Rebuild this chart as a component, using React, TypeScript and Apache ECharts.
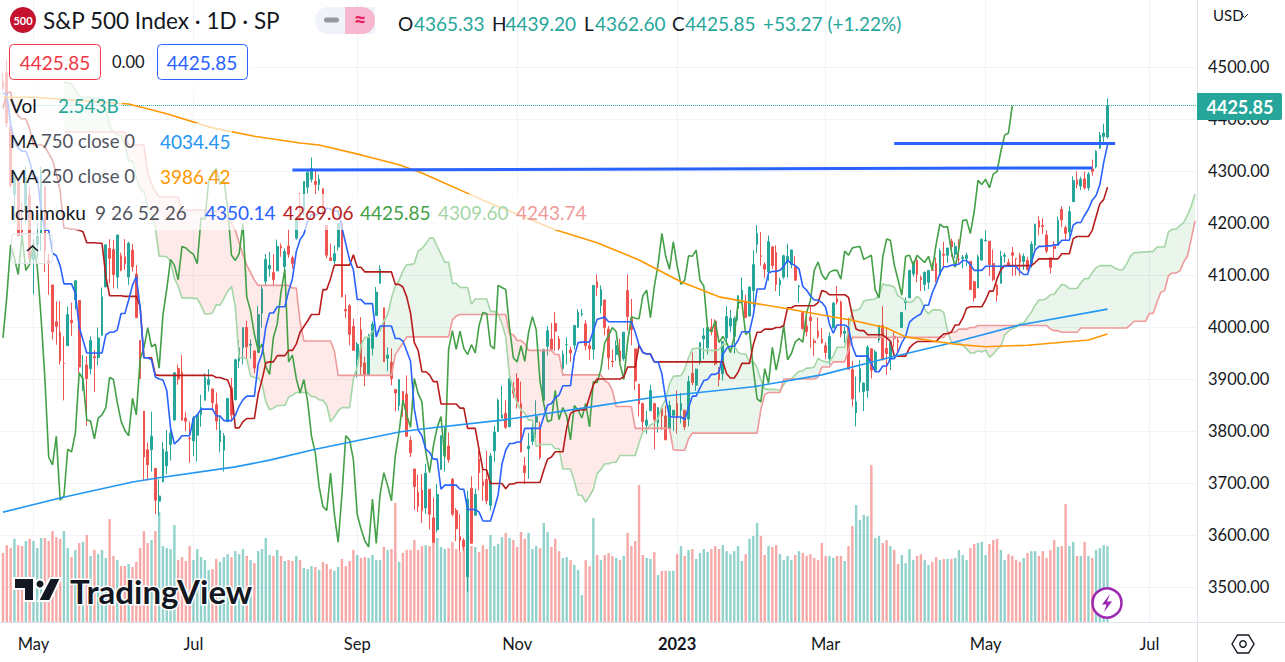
import React, { useEffect, useRef } from "react";
import * as echarts from "echarts";

// ---- daily bars, 20 Apr 2022 .. 15 Jun 2023 ----
const opens = [
  4472,4489,4385,4255,4279,4187,4223,4253,
  4130,4159,4181,4270,4128,4081,4010,3990,3930,3964,4013,4052,4051,3900,3927,3920,3943,3941,3984,4077,4151,
  4149,4096,4137,4135,4096,4148,4102,3974,3838,3764,3764,3728,3665,3702,3733,3774,3821,3920,3913,3825,3786,
  3781,3792,3831,3859,3889,3881,3851,3779,3763,3818,3883,3860,3935,3960,3999,3965,3954,3951,4027,4088,
  4112,4105,4108,4155,4116,4156,4133,4171,4227,4225,4269,4284,4280,4274,4266,4195,4133,4127,4154,4199,4034,4041,4001,
  3937,3995,3931,3909,3959,4022,4084,4037,3940,3932,3880,3849,3876,3871,3782,3727,3682,3686,3652,3688,3633,
  3610,3726,3753,3771,3707,3647,3597,3590,3520,3690,3638,3746,3703,3707,3657,3762,3799,3825,3834,3808,3882,
  3901,3853,3733,3766,3780,3817,3810,3859,3963,3977,4007,3977,3920,3966,3956,3965,4000,4024,4006,3964,3957,
  4087,4041,4052,3996,3934,3947,3954,3939,4070,4016,3958,3890,3853,3811,3839,3853,3816,3843,3829,3805,3830,
  3853,3840,3840,3823,3911,3888,3932,3977,3960,3999,4011,3911,3910,3979,4002,3982,4036,4053,4050,4021,
  4070,4159,4137,4120,4106,4154,4143,4081,4096,4126,4120,4115,4078,4028,4002,4019,3973,3992,3977,
  3964,3939,3998,4055,4048,3988,3998,3918,3835,3894,3876,3878,3958,3917,3975,4003,3959,3939,3982,3974,3999,4047,4056,
  4102,4128,4095,4082,4086,4110,4122,4100,4140,4138,4165,4140,4130,4132,4132,4126,4087,4075,4129,
  4166,4165,4122,4081,4084,4136,4124,4143,4132,4138,4126,4128,4122,4157,4204,4195,4177,4133,4155,4157,4226,4191,
  4183,4241,4283,4271,4285,4268,4304,4308,4344,4366,4365.33,
];
const highs = [
  4489,4513,4386,4299,4279,4240,4309,4270,
  4169,4201,4308,4270,4141,4081,4049,4050,3982,4039,4047,4090,4051,3946,3944,3982,3956,3999,4076,4159,4169,
  4167,4177,4143,4169,4164,4160,4119,3975,3838,3778,3837,3728,3707,3779,3802,3808,3913,3928,3946,3837,3818,
  3829,3832,3870,3911,3919,3881,3874,3829,3796,3863,3902,3939,3975,3999,4012,3976,3954,4040,4079,4140,
  4144,4140,4168,4161,4151,4187,4137,4211,4258,4280,4301,4326,4303,4293,4266,4195,4160,4157,4200,4204,4062,4044,4016,
  3971,4019,3943,3987,4011,4077,4119,4037,3961,3959,3880,3900,3876,3907,3790,3727,3716,3717,3737,3688,3672,
  3698,3791,3807,3797,3710,3652,3640,3594,3685,3713,3689,3762,3728,3762,3758,3810,3862,3887,3859,3905,3894,
  3911,3895,3750,3796,3813,3859,3818,3958,4002,4008,4029,3983,3955,3980,3962,4003,4034,4035,4013,3976,4080,
  4101,4080,4052,4002,3957,3974,3977,3990,4101,4054,3958,3890,3854,3839,3889,3853,3846,3846,3849,3858,3840,
  3878,3873,3840,3906,3951,3920,3970,3998,4003,4016,4015,3923,3972,4040,4033,4020,4061,4095,4062,4077,
  4148,4196,4183,4125,4176,4156,4157,4095,4139,4160,4149,4136,4081,4028,4017,4040,3978,4018,3998,
  3971,3990,4048,4079,4051,4001,4018,3935,3905,3937,3894,3965,3959,3956,4003,4040,4000,3972,3990,3979,4006,4057,4110,
  4125,4134,4099,4107,4109,4124,4134,4151,4164,4152,4170,4163,4169,4138,4143,4126,4089,4139,4170,
  4186,4165,4149,4083,4147,4143,4131,4154,4132,4143,4141,4135,4165,4198,4213,4209,4186,4133,4165,4212,4232,4195,
  4232,4290,4299,4289,4299,4298,4322,4340,4375,4391,4439.2,
];
const lows = [
  4455,4385,4268,4201,4175,4163,4200,4125,
  4063,4132,4147,4106,4062,3976,3966,3928,3859,3964,3983,4034,3911,3877,3810,3909,3875,3926,3984,4077,4084,
  4074,4074,4107,4110,4081,4107,4017,3900,3706,3705,3722,3640,3637,3702,3717,3743,3821,3889,3820,3800,3739,
  3752,3742,3808,3859,3876,3839,3802,3759,3722,3818,3818,3860,3921,3928,3938,3939,3911,3951,3999,4079,
  4097,4079,4108,4135,4107,4133,4112,4168,4201,4215,4257,4278,4255,4262,4218,4132,4128,4121,4147,4057,4017,3965,3954,
  3903,3907,3886,3906,3945,4022,4084,3933,3915,3888,3838,3839,3827,3789,3750,3648,3644,3623,3641,3611,3585,
  3605,3726,3722,3739,3636,3588,3568,3570,3491,3584,3638,3686,3666,3659,3647,3741,3799,3824,3804,3808,3863,
  3843,3759,3698,3708,3773,3786,3745,3859,3945,3957,3954,3955,3906,3928,3933,3957,3998,4020,3955,3937,3938,
  4060,4026,3984,3918,3923,3935,3933,3935,3994,3965,3879,3828,3800,3795,3839,3765,3797,3802,3783,3805,3800,
  3795,3815,3802,3809,3888,3877,3928,3938,3947,3984,3926,3886,3897,3972,3990,3949,4012,4048,4017,4021,
  4038,4142,4118,4094,4089,4112,4069,4060,4092,4095,4113,4090,4047,3995,3982,3960,3944,3977,3968,
  3939,3928,3998,4043,3980,3970,3918,3847,3809,3874,3838,3864,3901,3917,3970,3936,3908,3917,3961,3951,3999,4033,4056,
  4097,4086,4069,4069,4073,4108,4086,4100,4113,4124,4135,4132,4123,4113,4117,4071,4049,4075,4127,
  4164,4098,4088,4049,4084,4124,4116,4098,4099,4099,4110,4109,4114,4150,4176,4179,4142,4103,4131,4156,4192,4166,
  4174,4241,4267,4263,4264,4262,4291,4305,4342,4351,4362.6,
];
const closes = [
  4459,4393,4272,4296,4175,4183,4288,4132,
  4155,4175,4301,4147,4123,3991,4001,3935,3930,4024,4008,4089,3923,3901,3901,3974,3941,3979,4058,4158,4132,
  4101,4177,4109,4121,4161,4116,4018,3901,3750,3735,3790,3667,3675,3765,3760,3796,3912,3900,3821,3819,3785,
  3825,3831,3845,3903,3899,3855,3819,3801,3791,3863,3831,3937,3960,3999,3962,3967,3921,4024,4073,4130,
  4119,4091,4155,4152,4145,4140,4122,4210,4207,4280,4297,4305,4274,4284,4228,4138,4128,4141,4199,4058,4031,3986,3955,
  3967,3924,3909,3980,4006,4067,4111,3933,3946,3901,3873,3899,3856,3790,3758,3693,3655,3647,3719,3640,3586,
  3678,3791,3783,3745,3640,3612,3589,3577,3669,3584,3678,3720,3695,3666,3752,3798,3859,3831,3807,3901,3872,
  3856,3760,3720,3771,3807,3828,3749,3957,3993,3957,3992,3959,3947,3966,3950,4003,4028,4026,3964,3958,4080,
  4076,4072,3999,3941,3933,3964,3934,3990,4020,3995,3896,3852,3818,3821,3878,3822,3845,3829,3783,3849,3840,
  3825,3853,3808,3895,3893,3919,3970,3983,3999,3991,3929,3899,3972,4020,4017,4016,4060,4071,4018,4077,
  4120,4180,4136,4111,4164,4118,4082,4090,4137,4136,4148,4090,4079,3997,3991,4012,3970,3982,3970,
  3951,3982,4046,4048,3986,3992,3919,3862,3856,3920,3892,3961,3917,3952,4003,3937,3949,3971,3978,3971,4028,4051,4109,
  4125,4101,4091,4105,4109,4109,4092,4146,4138,4152,4154,4155,4130,4134,4138,4072,4056,4135,4169,
  4167,4120,4091,4061,4136,4138,4119,4138,4131,4124,4136,4110,4159,4198,4192,4193,4146,4115,4151,4205,4206,4180,
  4222,4282,4274,4284,4268,4294,4299,4338,4369,4373,4425.85,
];
// volume, billions
const volumes = [
  2.31,2.57,2.47,2.78,2.57,2.54,2.71,2.78,2.71,2.47,
  2.81,2.81,2.71,3.04,2.84,2.78,3.04,2.47,2.17,2.41,
  2.64,2.68,2.91,2.21,2.41,2.27,2.41,2.14,3.44,2.21,
  2.07,1.87,1.87,1.94,1.84,2.01,2.47,3.04,2.64,2.74,
  3.04,3.68,2.54,2.47,2.44,3.24,2.07,2.17,2.04,2.54,
  2.07,2.44,2.17,2.07,1.74,1.77,2.11,2.01,2.17,2.27,
  2.17,2.37,2.27,2.44,2.21,2.07,1.97,2.37,2.44,2.81,
  2.24,2.21,2.41,2.21,2.04,2.07,2.04,2.21,2.07,1.81,
  1.77,1.87,1.84,1.74,2.01,1.94,1.77,1.71,1.84,2.11,
  1.87,2.04,2.41,2.24,2.14,2.17,2.14,2.24,2.07,2.07,
  2.51,2.41,2.44,3.98,2.01,2.31,2.41,2.41,2.74,2.41,
  2.54,2.57,2.54,2.74,2.81,2.51,2.44,2.47,2.68,2.44,
  2.34,2.47,2.21,2.54,2.51,2.34,2.57,2.44,2.91,2.54,
  2.61,2.84,2.98,2.81,2.74,2.51,3.01,2.78,2.98,2.44,
  2.54,2.47,3.31,3.01,2.51,2.78,2.37,2.14,2.17,2.07,
  1.91,1.74,0.90,2.07,1.87,3.48,2.24,2.07,2.24,2.31,
  2.21,2.14,2.07,2.21,2.98,2.54,2.71,4.58,2.24,2.14,
  2.11,2.34,1.57,1.71,1.71,1.71,1.71,2.27,2.54,2.21,
  2.41,2.44,2.11,2.31,2.44,2.34,2.44,2.54,2.44,2.57,
  2.37,2.27,2.37,2.54,2.04,2.27,2.78,2.88,3.31,2.88,
  2.24,2.54,2.51,2.57,2.27,2.07,2.21,2.07,2.24,2.37,
  2.31,2.21,2.27,2.14,2.07,2.64,2.21,2.21,2.14,2.21,
  2.21,2.04,2.54,3.21,3.91,3.41,3.58,3.54,5.25,2.81,
  2.88,2.64,2.74,2.54,2.41,1.94,2.24,1.97,2.44,2.07,
  2.21,2.27,2.07,1.91,2.01,2.17,2.07,2.11,2.11,2.11,
  2.14,2.41,2.24,2.07,2.47,2.61,2.64,2.68,2.24,2.61,
  2.74,2.78,2.41,2.07,2.27,2.21,2.07,2.01,2.14,2.31,
  2.37,2.37,2.21,2.37,2.14,2.41,2.74,2.51,2.54,3.95,
  2.54,2.68,2.21,2.21,2.68,2.21,2.14,2.41,2.47,2.57,
  2.54,
];
// Ichimoku conversion and base lines
const tenkan = [
  4450,4447,4390,4357,4344,4338,4338,4319,4288,4288,
  4225,4186,4186,4142,4137,4118,4083,4083,4083,4065,
  4000,3975,3950,3950,3950,3950,3950,3985,3990,3990,
  3994,4026,4026,4052,4080,4097,4038,3941,3941,3937,
  3904,3900,3898,3878,3806,3775,3782,3791,3791,3791,
  3824,3831,3842,3842,3842,3842,3829,3829,3820,3820,
  3820,3830,3848,3860,3867,3867,3867,3929,3948,4000,
  4027,4027,4039,4039,4039,4069,4093,4145,4168,4179,
  4204,4216,4216,4219,4219,4229,4227,4223,4223,4191,
  4160,4129,4110,4053,4053,4045,4045,4045,3981,4002,
  4002,4002,4002,3978,3978,3973,3954,3934,3842,3802,
  3791,3765,3759,3746,3746,3688,3696,3696,3696,3696,
  3688,3688,3649,3649,3649,3644,3627,3627,3627,3651,
  3677,3736,3763,3776,3776,3779,3779,3805,3805,3805,
  3805,3805,3828,3850,3853,3864,3869,3887,3887,3887,
  3944,3970,3971,3971,3971,3993,4015,4017,4019,4010,
  4010,4010,4010,4010,4010,4010,3990,3965,3951,3948,
  3948,3933,3933,3910,3862,3828,3827,3827,3827,3822,
  3845,3867,3867,3883,3897,3899,3909,3909,3913,3947,
  3959,3963,3963,3974,3991,3991,3991,4023,4073,4073,
  4073,4104,4107,4107,4109,4117,4128,4122,4118,4112,
  4078,4071,4060,4052,4052,4047,4038,4005,3988,4004,
  4004,4004,3999,3963,3944,3944,3944,3944,3930,3914,
  3914,3925,3925,3939,3939,3952,3970,3982,4009,4016,
  4021,4025,4042,4042,4066,4083,4103,4116,4116,4119,
  4119,4121,4128,4128,4120,4109,4109,4109,4117,4117,
  4117,4117,4117,4117,4117,4117,4117,4107,4101,4101,
  4124,4148,4155,4155,4156,4156,4158,4158,4167,4167,
  4167,4196,4201,4201,4215,4227,4244,4253,4274,4316,4350.14,
];
const kijun = [
  4420,4450,4452,4419,4406,4400,4400,4381,4350,4350,
  4350,4347,4334,4321,4295,4263,4190,4190,4188,4188,
  4186,4183,4162,4162,4162,4161,4161,4098,4060,4060,
  4060,4060,4059,4059,4059,4059,4040,3941,3941,3941,
  3908,3907,3907,3907,3907,3907,3907,3907,3907,3907,
  3907,3907,3907,3907,3907,3907,3903,3903,3900,3898,
  3878,3806,3806,3818,3824,3824,3824,3871,3898,3931,
  3933,3933,3945,3945,3945,3955,3955,3967,3990,4001,
  4012,4024,4024,4024,4072,4072,4093,4119,4119,4119,
  4119,4119,4139,4115,4115,4106,4106,4106,4106,4106,
  4106,4106,4106,4082,4082,4077,4058,4027,3970,3955,
  3914,3914,3908,3895,3895,3852,3852,3852,3852,3852,
  3844,3844,3805,3805,3805,3764,3726,3725,3699,3699,
  3699,3699,3689,3698,3698,3701,3701,3701,3701,3701,
  3701,3701,3725,3746,3750,3760,3760,3760,3806,3834,
  3838,3840,3841,3841,3866,3889,3900,3900,3900,3900,
  3900,3900,3900,3904,3923,3923,3923,3965,3951,3948,
  3948,3933,3933,3933,3933,3933,3933,3933,3933,3933,
  3933,3933,3933,3933,3933,3933,3933,3933,3933,3933,
  3910,3902,3902,3913,3930,3930,3930,3966,3990,3990,
  3996,3996,3996,3999,3999,4003,4037,4037,4041,4041,
  4041,4041,4041,4041,4047,4070,4068,4062,4062,4062,
  4062,4062,4057,4022,3996,3993,3993,3985,3985,3985,
  3985,3985,3979,3973,3945,3944,3944,3944,3960,3967,
  3972,3972,3972,3972,3972,3972,3980,3987,3987,3990,
  4004,4004,4017,4036,4039,4039,4039,4039,4052,4069,
  4069,4093,4110,4118,4118,4118,4118,4118,4118,4118,
  4118,4124,4131,4131,4131,4131,4131,4131,4141,4141,
  4141,4170,4174,4174,4174,4174,4186,4212,4237,4245,4269.06,
];
// Ichimoku leading spans, drawn from bar 16 to the right edge of the plot
const leadStart = 16;
const spanA = [
  4470,4470,4468,4455,4445,4442,4442,4442,4440,
  4440,4435,4421,4388,4375,
  4369,4369,4350,4319,4319,4287,4266,4260,4231,4216,
  4190,4136,4136,4135,4126,4093,4079,4056,4056,4056,
  4055,4055,4041,4025,4025,4027,4043,4042,4055,4069,
  4078,4039,3941,3941,3939,3906,3903,3902,3892,3856,
  3841,3844,3849,3849,3849,3865,3869,3874,3874,3874,
  3874,3866,3866,3860,3859,3849,3818,3827,3839,3845,
  3845,3845,3900,3923,3965,3980,3980,3992,3992,3992,
  4012,4024,4056,4079,4090,4108,4120,4120,4122,4146,
  4151,4160,4171,4171,4155,4140,4124,4125,4084,4084,
  4076,4076,4076,4044,4054,4054,4054,4054,4030,4030,
  4025,4006,3981,3906,3879,3853,3840,3834,3821,3821,
  3770,3774,3774,3774,3774,3766,3766,3727,3727,3727,
  3704,3677,3676,3663,3675,3688,3718,3726,3737,3737,
  3740,3740,3753,3753,3753,3753,3753,3777,3798,3802,
  3812,3815,3824,3847,3861,3891,3905,3906,3906,3919,
  3941,3958,3959,3960,3955,3955,3955,3955,3957,3967,
  3967,3957,3965,3951,3948,3948,3933,3933,3922,3898,
  3881,3880,3880,3880,3878,3889,3900,3900,3908,3915,
  3916,3921,3921,3923,3940,3935,3933,3933,3944,3961,
  3961,3961,3995,4032,4032,4035,4050,4052,4053,4054,
  4060,4083,4080,4080,4077,4060,4056,4050,4047,4050,
  4059,4053,4034,4025,4033,4033,4033,4028,3993,3970,
  3969,3969,3965,3958,3950,3950,3955,3952,3956,3942,
  3948,3957,3963,3985,3992,3997,3999,4007,4007,4019,
  4028,4042,4052,4052,4055,4062,4063,4073,4082,4080,
  4074,4074,4074,4085,4093,4093,4105,4114,4118,4118,
  4118,4118,4113,4110,4110,4121,4136,4143,4143,4144,
  4144,4145,4145,4154,4154,4154,4183,4188,4188,4195,
  4201,4215,4233,4256,
];
const spanB = [
  4375,4375,4375,4375,
  4375,4375,4375,4375,4375,4375,4375,4375,4375,4375,
  4375,4375,4375,4350,4350,4350,4350,4350,4296,4275,
  4260,4250,4250,4250,4250,4250,4250,4225,4225,4225,
  4225,4225,4225,4225,4223,4223,4223,4223,4223,4210,
  4200,4186,4162,4140,4119,4105,4090,4080,4080,4080,
  4080,4080,4080,4080,4080,4080,4075,4075,4011,3973,
  3973,3973,3973,3973,3973,3973,3973,3954,3907,3907,
  3907,3907,3907,3907,3907,3907,3907,3907,3907,3907,
  3907,3907,3907,3947,3958,3969,3981,3981,3981,3981,
  3981,3981,3981,3981,3981,3981,3981,3981,4014,4021,
  4024,4024,4024,4024,4024,4024,4024,4024,4024,4024,
  4024,4024,4024,3987,3985,3974,3974,3968,3955,3955,
  3955,3955,3955,3955,3955,3947,3947,3908,3908,3908,
  3908,3908,3908,3908,3908,3908,3908,3908,3897,3892,
  3878,3847,3847,3847,3847,3847,3805,3805,3805,3805,
  3805,3805,3805,3805,3805,3805,3764,3763,3763,3763,
  3785,3796,3796,3796,3796,3796,3796,3796,3796,3796,
  3796,3796,3796,3796,3796,3796,3796,3796,3796,3842,
  3870,3874,3874,3874,3874,3900,3900,3900,3900,3900,
  3900,3900,3900,3900,3904,3923,3923,3923,3933,3933,
  3933,3933,3956,3980,3980,3980,3980,3980,3980,3980,
  3980,3980,3980,3980,3980,3980,3980,3980,3980,3980,
  3980,3980,3980,3980,3980,3980,3980,3980,3990,3990,
  3990,3996,3996,3996,3999,3999,4003,4003,4003,4003,
  4003,4003,4003,4003,4003,4003,4003,4003,4003,4003,
  4003,4003,4003,4003,4003,3996,3993,3993,3990,3990,
  3990,3990,3990,3998,3998,3998,3998,3998,3998,3998,
  3998,3998,3998,3998,3998,3998,4004,4011,4011,4011,
  4011,4026,4026,4048,4067,4070,4099,4104,4104,4108,
  4125,4137,4170,4204,
];
// the lagging span is the close, 25 bars back
const laggingShift = 25;
// moving averages, read at their bends
const ma750Bars = [0,15,34,41,61,70,82,90,104,110,131,154,171,197,215,232,250,267,290];
const ma750Values = [3644,3671,3702,3710,3731,3744,3765,3777,3798,3804,3821,3846,3865,3885,3908,3940,3971,4004,4034.45];
const ma250Bars = [0,8,33,43,55,66,78,83,94,104,110,126,145,156,167,178,188,197,206,215,223,232,237,250,258,269,285,290];
const ma250Values = [4442,4442,4429,4410,4383,4367,4354,4350,4331,4312,4296,4244,4187,4162,4129,4087,4058,4046,4035,4023,4013,3998,3981,3967,3962,3965,3975,3986.42];
// hand-drawn horizontal levels
const levelOneBars = [76,286];
const levelOneValues = [4302,4306];
const levelTwoBars = [234,292];
const levelTwoValues = [4353,4353];
// axes
const barCount = 314;
const tickBars = [8,50,93,135,177,216,258,301];
const tickLabels = ["May","Jul","Sep","Nov","2023","Mar","May","Jul"];
const priceTicks = [3500,3600,3700,3800,3900,4000,4100,4200,4300,4400,4500];
const lastPrice = 4425.85;

const UP = "#26a69a";
const DOWN = "#ef5350";
const FONT = "Lato, 'Noto Sans', sans-serif";
const DARK = "#131722";
const GREY = "#50535e";

const categories: string[] = [];
for (let i = 0; i < barCount; i++) {
  const t = tickBars.indexOf(i);
  categories.push(t >= 0 ? tickLabels[t] : "");
}

function label(x: number, y: number, text: string, fill: string, size = 19, weight = "normal", align = "left", z = 102) {
  return {
    type: "text", x, y, z, silent: true,
    style: { text, fill, font: `${weight} ${size}px ${FONT}`, verticalAlign: "middle", align },
  };
}
function veil(x: number, y: number, width: number, height: number) {
  return { type: "rect", z: 100, silent: true, shape: { x, y, width, height }, style: { fill: "rgba(255,255,255,0.68)" } };
}

function cloudItem(params: any, api: any) {
  const i = api.value(0);
  const a0 = api.value(1), b0 = api.value(2), a1 = api.value(3), b1 = api.value(4);
  const green = "rgba(67,160,71,0.11)";
  const red = "rgba(244,67,54,0.11)";
  const P = (k: number, v: number) => api.coord([k, v]);
  const poly = (points: number[][], fill: string) => ({ type: "polygon", shape: { points }, style: { fill }, silent: true });
  if ((a0 - b0) * (a1 - b1) < 0) {
    const t = (a0 - b0) / (a0 - b0 - (a1 - b1));
    const m = P(i + t, a0 + (a1 - a0) * t);
    return {
      type: "group",
      children: [
        poly([P(i, a0), m, P(i, b0)], a0 > b0 ? green : red),
        poly([m, P(i + 1, a1), P(i + 1, b1)], a1 > b1 ? green : red),
      ],
    };
  }
  return poly([P(i, a0), P(i + 1, a1), P(i + 1, b1), P(i, b0)], a0 >= b0 && a1 >= b1 ? green : red);
}

export default function App() {
  const ref = useRef<HTMLDivElement>(null);
  useEffect(() => {
    document.body.style.margin = "0";
    const chart = echarts.init(ref.current!, undefined, { renderer: "svg" });

    const candles = opens.map((o, i) => [o, closes[i], lows[i], highs[i]]);
    const vols = volumes.map((v, i) => ({
      value: v,
      itemStyle: { color: closes[i] >= opens[i] ? "rgba(38,166,154,0.5)" : "rgba(239,83,80,0.5)" },
    }));
    const pairs = (xs: number[], ys: number[]) => xs.map((x, k) => [x, ys[k]]);
    const leadA = spanA.map((v, k) => [k + leadStart, v]);
    const leadB = spanB.map((v, k) => [k + leadStart, v]);
    const cloud = spanA.slice(0, -1).map((v, k) => [k + leadStart, v, spanB[k], spanA[k + 1], spanB[k + 1]]);
    const line = (name: string, data: any[], color: string, width = 1.6, z = 5) => ({
      name, type: "line", data, z, showSymbol: false, symbol: "none", silent: true,
      lineStyle: { color, width }, connectNulls: false,
    });

    chart.setOption({
      animation: false,
      backgroundColor: "#ffffff",
      grid: { left: 0, top: 0, width: 1197, height: 622, containLabel: false },
      xAxis: {
        type: "category", data: categories, boundaryGap: true,
        axisLine: { show: false }, axisTick: { show: false, alignWithLabel: true },
        axisLabel: {
          interval: 0, margin: 13, color: DARK, fontSize: 16.5, fontFamily: FONT,
          formatter: (v: string) => (v === "2023" ? "{b|2023}" : v),
          rich: { b: { fontWeight: "bold", fontSize: 16.5, fontFamily: FONT, color: DARK } },
        },
        splitLine: {
          show: true, alignWithLabel: true,
          interval: (_: number, v: string) => v !== "",
          lineStyle: { color: "#f0f3fa", width: 1 },
        },
      },
      yAxis: [
        {
          type: "value", position: "right", scale: true, min: 3432.7, max: 4628.9,
          axisLine: { show: false }, axisTick: { show: false, customValues: priceTicks },
          axisLabel: {
            customValues: priceTicks, margin: 11, color: DARK, fontSize: 16.5, fontFamily: FONT,
            padding: [2, 0, 0, 0],
            formatter: (v: number) => v.toFixed(2),
          },
          splitLine: { show: true, lineStyle: { color: "#f0f3fa", width: 1 } },
        },
        { type: "value", min: 0, max: 20.8, show: false, splitLine: { show: false } },
      ],
      series: [
        { name: "Vol", type: "bar", yAxisIndex: 1, data: vols, barWidth: 2.4, z: 1, silent: true },
        {
          name: "S&P 500", type: "candlestick", data: candles, barWidth: 2.2, z: 2, silent: true,
          itemStyle: { color: UP, color0: DOWN, borderColor: UP, borderColor0: DOWN, borderWidth: 1 },
          markLine: {
            symbol: "none", silent: true, label: { show: false },
            lineStyle: { color: UP, type: "dotted", width: 1 },
            data: [{ yAxis: lastPrice }],
          },
        },
        {
          name: "Cloud", type: "custom", data: cloud, renderItem: cloudItem, z: 3, clip: true, silent: true,
          encode: { x: 0, y: [1, 2, 3, 4] },
        },
        line("Leading 1", leadA, "#a5d6a7"),
        line("Leading 2", leadB, "#ef9a9a"),
        line("Lagging", closes.slice(laggingShift), "#43a047"),
        line("Base", kijun, "#b71c1c"),
        line("Conversion", tenkan, "#2962ff"),
        line("MA 750", pairs(ma750Bars, ma750Values), "#2196f3"),
        line("MA 250", pairs(ma250Bars, ma250Values), "#ff9800"),
        line("Level 1", pairs(levelOneBars, levelOneValues), "#2962ff", 3, 6),
        line("Level 2", pairs(levelTwoBars, levelTwoValues), "#2962ff", 3, 6),
      ],
      graphic: {
        elements: [
          // axis frame
          { type: "line", z: 101, silent: true, shape: { x1: 0, y1: 622.5, x2: 1285, y2: 622.5 }, style: { stroke: "#e0e3eb", lineWidth: 1 } },
          { type: "line", z: 101, silent: true, shape: { x1: 1197.5, y1: 0, x2: 1197.5, y2: 662 }, style: { stroke: "#e0e3eb", lineWidth: 1 } },
          // legend veils
          veil(0, 40, 255, 52),
          veil(0, 92, 122, 31),
          veil(0, 123, 232, 35),
          veil(0, 158, 232, 36),
          veil(0, 194, 585, 36),
          // header
          { type: "circle", z: 102, silent: true, shape: { cx: 23, cy: 20, r: 13 }, style: { fill: "#c4122f" } },
          label(23, 20.5, "500", "#ffffff", 11, "bold", "center", 103),
          label(43, 20, "S&P 500 Index · 1D · SP", DARK, 22.5),
          { type: "rect", z: 102, silent: true, shape: { x: 315, y: 7, width: 60, height: 27, r: [13, 0, 0, 13] }, style: { fill: "#f0f3fa" } },
          { type: "rect", z: 103, silent: true, shape: { x: 345, y: 7, width: 30, height: 27, r: [0, 13, 13, 0] }, style: { fill: "#f7b7cf" } },
          { type: "rect", z: 103, silent: true, shape: { x: 324, y: 17.5, width: 15, height: 5, r: 2.5 }, style: { fill: "#9598a1" } },
          label(360, 19.5, "≈", "#e91e63", 22, "bold", "center", 104),
          label(398, 23, "O", DARK),
          label(414, 23, "4365.33", UP),
          label(492, 23, "H", DARK),
          label(505.5, 23, "4439.20", UP),
          label(584, 23, "L", DARK),
          label(595, 23, "4362.60", UP),
          label(672, 23, "C", DARK),
          label(685, 23, "4425.85", UP),
          label(763, 23, "+53.27 (+1.22%)", UP),
          // price boxes
          { type: "rect", z: 102, silent: true, shape: { x: 9.5, y: 44.5, width: 91, height: 35, r: 4 }, style: { fill: "#ffffff", stroke: "#f23645", lineWidth: 1 } },
          label(55, 62, "4425.85", "#f23645", 19, "normal", "center", 103),
          label(112, 62, "0.00", DARK, 16.5),
          { type: "rect", z: 102, silent: true, shape: { x: 157.5, y: 44.5, width: 90, height: 35, r: 4 }, style: { fill: "#ffffff", stroke: "#2962ff", lineWidth: 1 } },
          label(202, 62, "4425.85", "#2962ff", 19, "normal", "center", 103),
          // indicator legend
          label(10, 105, "Vol", DARK),
          label(58, 105, "2.543B", UP),
          label(10, 141, "MA", DARK, 17.5),
          label(41, 141, "750 close 0", GREY, 18.5),
          label(160, 141, "4034.45", "#2196f3"),
          label(10, 176, "MA", DARK, 17.5),
          label(41, 176, "250 close 0", GREY, 18.5),
          label(160, 176, "3986.42", "#ff9800"),
          label(10, 212, "Ichimoku", DARK),
          label(95, 212, "9 26 52 26", GREY),
          label(205, 212, "4350.14", "#2962ff"),
          label(283, 212, "4269.06", "#b71c1c"),
          label(360, 212, "4425.85", "#43a047"),
          label(438, 212, "4309.60", "#a5d6a7"),
          label(516, 212, "4243.74", "#ef9a9a"),
          // collapse button
          { type: "rect", z: 102, silent: true, shape: { x: 11.5, y: 233.5, width: 41, height: 30, r: 4 }, style: { fill: "rgba(255,255,255,0.6)", stroke: "#e0e3eb", lineWidth: 1 } },
          { type: "polyline", z: 103, silent: true, shape: { points: [[27, 251], [32.5, 246], [38, 251]] }, style: { fill: "none", stroke: DARK, lineWidth: 1.6 } },
          // last price tag
          { type: "rect", z: 104, silent: true, shape: { x: 1197, y: 93, width: 85, height: 27, r: [0, 2, 2, 0] }, style: { fill: UP } },
          label(1240, 106.5, "4425.85", "#ffffff", 18, "bold", "center", 105),
          // currency
          label(1213, 15, "USD", DARK, 15),
          { type: "polyline", z: 103, silent: true, shape: { points: [[1241, 14], [1244.5, 17.5], [1248, 14]] }, style: { fill: "none", stroke: DARK, lineWidth: 1 } },
          // settings hexagon
          { type: "polygon", z: 103, silent: true, shape: { points: [[1232, 644], [1237.5, 635], [1248.5, 635], [1254, 644], [1248.5, 653], [1237.5, 653]] }, style: { fill: "none", stroke: DARK, lineWidth: 1.4 } },
          { type: "circle", z: 103, silent: true, shape: { cx: 1243, cy: 644, r: 3.2 }, style: { fill: "none", stroke: DARK, lineWidth: 1.4 } },
          // events badge
          { type: "circle", z: 103, silent: true, shape: { cx: 1107, cy: 603, r: 14.5 }, style: { fill: "#ffffff", stroke: "#9c27b0", lineWidth: 2.5 } },
          { type: "polygon", z: 104, silent: true, shape: { points: [[1110, 594], [1102, 604.5], [1106.5, 604.5], [1104, 612], [1112, 601.5], [1107, 601.5]] }, style: { fill: "#9c27b0" } },
          // watermark
          { type: "polygon", z: 103, silent: true, shape: { points: [[14, 578], [34, 578], [34, 601], [24, 601], [24, 589], [14, 589]] }, style: { fill: DARK, stroke: "#ffffff", lineWidth: 2 } },
          { type: "circle", z: 103, silent: true, shape: { cx: 40, cy: 584, r: 4.5 }, style: { fill: DARK, stroke: "#ffffff", lineWidth: 2 } },
          { type: "polygon", z: 103, silent: true, shape: { points: [[50, 578], [61, 578], [50, 601], [38, 601]] }, style: { fill: DARK, stroke: "#ffffff", lineWidth: 2 } },
          {
            type: "text", x: 70, y: 591, z: 103, silent: true,
            style: { text: "TradingView", fill: DARK, stroke: "#ffffff", lineWidth: 3, font: `bold 33px ${FONT}`, verticalAlign: "middle", align: "left" },
          },
        ],
      },
    });
    return () => chart.dispose();
  }, []);
  return <div ref={ref} style={{ width: 1285, height: 662 }} />;
}
